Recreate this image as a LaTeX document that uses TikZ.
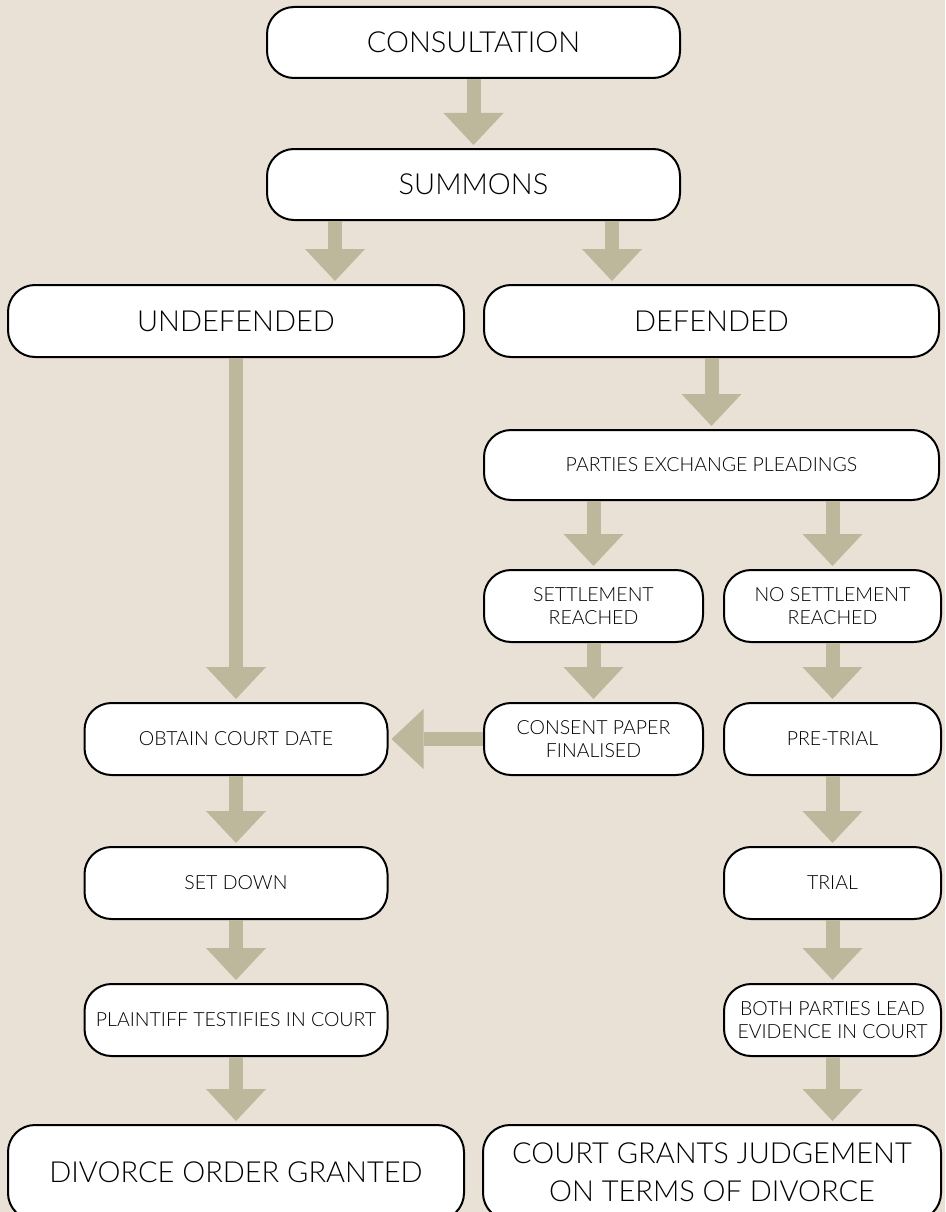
\documentclass[tikz,border=0pt]{standalone}
\usepackage{fontspec}
\setmainfont{Lato}[UprightFont={* Light}]
\usetikzlibrary{arrows.meta,positioning}

\definecolor{paper}{RGB}{233,225,213}
\definecolor{shaft}{RGB}{189,183,156}
\tikzset{
	box/.style={draw=black, line width=2pt, fill=white, rounded corners=27pt,
		align=center, inner sep=0pt, minimum height=72pt,
		font=\fontsize{19.5}{23}\selectfont},
	bigbox/.style={box, font=\fontsize{29}{38}\selectfont},
	fat/.style={color=shaft, line width=14pt, shorten >=3pt,
		-{Triangle[width=60pt,length=32pt,line width=0pt]}}
}

\begin{document}
\begin{tikzpicture}[x=1pt,y=-1pt]
	\fill[paper] (0,0) rectangle (945,1212);
	\useasboundingbox (0,0) rectangle (945,1212);

	\node[bigbox, minimum width=413pt, minimum height=71pt] (cons) at (473.5,42.5) {CONSULTATION};
	\node[bigbox, minimum width=413pt, minimum height=71pt] (summ)[below=69pt of cons] {SUMMONS};
	\node[bigbox, minimum width=456pt] (undef) at (236,321) {UNDEFENDED};
	\node[bigbox, minimum width=455pt] (def)[right=18pt of undef] {DEFENDED};
	\node[box, minimum width=455pt, minimum height=70pt] (plead)[below=71pt of def] {PARTIES EXCHANGE PLEADINGS};
	\node[box, minimum width=219pt] (settle)[below right=68pt and 0pt of plead.south west] {SETTLEMENT\\REACHED};
	\node[box, minimum width=217pt] (nosettle)[right=19pt of settle] {NO SETTLEMENT\\REACHED};
	\node[box, minimum width=219pt] (consent)[below=59pt of settle] {CONSENT PAPER\\FINALISED};
	\node[box, minimum width=217pt] (pretrial)[below=59pt of nosettle] {PRE-TRIAL};
	\node[box, minimum width=303pt] (obtain)[left=94.5pt of consent] {OBTAIN COURT DATE};
	\node[box, minimum width=303pt] (setdown)[below=70pt of obtain] {SET DOWN};
	\node[box, minimum width=303pt] (plaintiff)[below=63pt of setdown] {PLAINTIFF TESTIFIES IN COURT};
	\node[bigbox, minimum width=456pt, minimum height=95pt] (divorce)[below=67pt of plaintiff] {DIVORCE ORDER GRANTED};
	\node[box, minimum width=217pt] (trial)[below=70pt of pretrial] {TRIAL};
	\node[box, minimum width=217pt] (both)[below=63pt of trial] {BOTH PARTIES LEAD\\EVIDENCE IN COURT};
	\node[bigbox, minimum width=458pt, minimum height=95pt] (court)[right=17pt of divorce] {COURT GRANTS JUDGEMENT\\ON TERMS OF DIVORCE};

	\path[fat]
	(cons) edge (summ)
	(undef) edge (obtain)
	(settle) edge (consent)
	(nosettle) edge (pretrial)
	(pretrial) edge (trial)
	(trial) edge (both)
	(consent) edge (obtain)
	(obtain) edge (setdown)
	(setdown) edge (plaintiff)
	(plaintiff) edge (divorce);

	\draw[fat] ([xshift=-138.5pt]summ.south) -- ([xshift=-138.5pt]summ.south |- undef.north);
	\draw[fat] ([xshift=138.5pt]summ.south) -- ([xshift=138.5pt]summ.south |- def.north);
	\draw[fat] (def.south) -- (plead.north);
	\draw[fat] (settle.north |- plead.south) -- (settle.north);
	\draw[fat] (nosettle.north |- plead.south) -- (nosettle.north);
	\draw[fat] (both.south) -- (both.south |- court.north);
\end{tikzpicture}
\end{document}
